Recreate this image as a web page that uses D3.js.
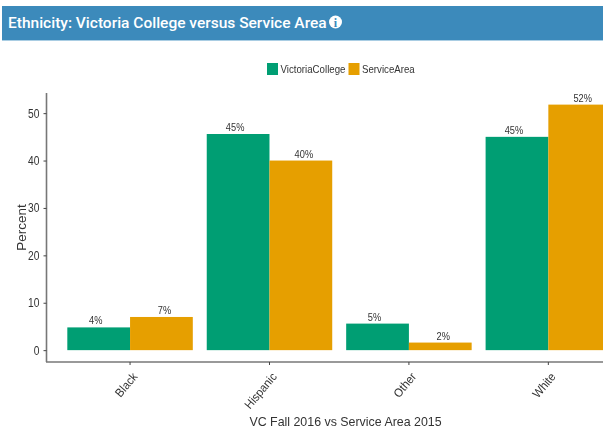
<!DOCTYPE html>
<html><head><meta charset="utf-8">
<script src="https://cdn.jsdelivr.net/npm/d3@7"></script>
<style>html,body{margin:0;padding:0;background:#fff}svg{display:block;filter:blur(0.5px)}text{font-family:"Liberation Sans",sans-serif}</style>
</head><body><div id="c"></div>
<script>
const categories=["Black","Hispanic","Other","White"];
const seriesNames=["VictoriaCollege","ServiceArea"];
const victoriaCollege=[4.8,45.6,5.6,45];
const serviceArea=[7,40,1.6,51.8];
const vcLabels=["4%","45%","5%","45%"];
const saLabels=["7%","40%","2%","52%"];
const yTicks=[0,10,20,30,40,50];
const colors=["#009E73","#E69F00"];
const title="Ethnicity: Victoria College versus Service Area";
const xTitle="VC Fall 2016 vs Service Area 2015";
const yTitle="Percent";

function squeeze(sel,f){sel.each(function(){const n=this.getComputedTextLength();d3.select(this).attr("textLength",n*f).attr("lengthAdjust","spacingAndGlyphs");});}

const W=603,H=435;
const svg=d3.select("#c").append("svg").attr("width",W).attr("height",H);
svg.append("rect").attr("x",2).attr("y",6).attr("width",W-2).attr("height",34.5).attr("fill","#3c8abb");
svg.append("rect").attr("x",2).attr("y",40).attr("width",W-2).attr("height",1).attr("fill","#a9cde3");
svg.append("text").attr("x",8).attr("y",28).attr("fill","#fff").attr("font-size",15.5).attr("font-weight",500).style("font-family","Roboto").text(title);
const ic=svg.append("g").attr("transform","translate(335.5,22)");
ic.append("circle").attr("r",6.5).attr("fill","#fff");
ic.append("text").attr("text-anchor","middle").attr("y",4.5).attr("font-size",12).attr("font-weight",700).attr("fill","#3c8abb").style("font-family","Liberation Serif").text("i");

const x=d3.scaleBand().domain(categories).range([46.4,632]).paddingInner(0.1).paddingOuter(0.15);
const xi=d3.scaleBand().domain(seriesNames).range([0,x.bandwidth()]);
const y=d3.scaleLinear().domain([-2.5,54.25]).range([362,93]);

const rows=categories.map((c,i)=>({c,vals:[victoriaCollege[i],serviceArea[i]],labs:[vcLabels[i],saLabels[i]]}));
const g=svg.selectAll("g.cat").data(rows).join("g").attr("class","cat").attr("transform",d=>`translate(${x(d.c)},0)`);
seriesNames.forEach((s,k)=>{
  g.append("rect").attr("x",xi(s)).attr("width",xi.bandwidth()).attr("y",d=>y(d.vals[k])).attr("height",d=>y(0)-y(d.vals[k])).attr("fill",colors[k]);
  g.append("text").attr("x",xi(s)+xi.bandwidth()/2+(k?3:-3)).attr("y",d=>y(d.vals[k])-3).attr("text-anchor","middle").attr("font-size",10.5).attr("fill","#333").text(d=>d.labs[k]).call(squeeze,0.88);
});

const ya=svg.append("g").attr("transform","translate(46.5,0)").call(d3.axisLeft(y).tickValues(yTicks).tickSize(3).tickPadding(4));
const xa=svg.append("g").attr("transform","translate(0,362)").call(d3.axisBottom(x).tickSize(3));
[ya,xa].forEach(a=>{a.select(".domain").attr("stroke","#777").attr("stroke-width",1.6);a.selectAll(".tick line").attr("stroke","#444");a.selectAll("text").attr("fill","#333").style("font-family","Liberation Sans");});
ya.select(".domain").attr("d","M0,93V362");
xa.select(".domain").attr("d","M46,0H603");
ya.selectAll("text").attr("font-size",12.5).call(squeeze,0.82);
xa.selectAll("text").attr("font-size",12).attr("text-anchor","end").attr("dy",null).attr("x",0).attr("y",0).attr("transform","translate(8,15) rotate(-50)").call(squeeze,0.93);
svg.append("text").attr("x",345.5).attr("y",426).attr("text-anchor","middle").attr("font-size",12.4).attr("fill","#333").text(xTitle);
svg.append("text").attr("transform","translate(26,227.5) rotate(-90)").attr("text-anchor","middle").attr("font-size",13.5).attr("fill","#333").text(yTitle);

const lg=[[267,seriesNames[0]],[348.5,seriesNames[1]]];
lg.forEach((l,k)=>{
  svg.append("rect").attr("x",l[0]).attr("y",63).attr("width",11).attr("height",12).attr("fill",colors[k]);
  svg.append("text").attr("x",l[0]+13.5).attr("y",73).attr("font-size",11).attr("fill","#333").text(l[1]).call(squeeze,0.88);
});
</script></body></html>
